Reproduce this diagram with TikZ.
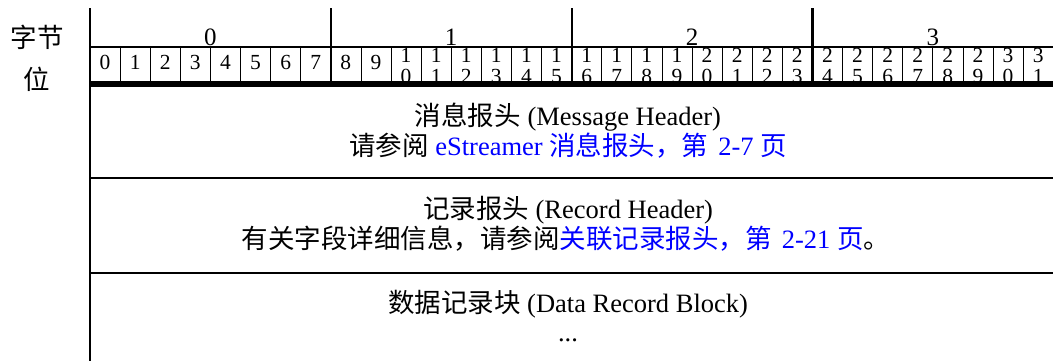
\documentclass[tikz,border=0pt]{standalone}
\usepackage{fontspec}
\setmainfont{Liberation Serif}
\newfontfamily\zhfont{Noto Sans CJK SC}
\newcommand{\zh}[1]{{\zhfont #1}}
\usetikzlibrary{calc}
\definecolor{linkblue}{RGB}{0,0,255}

\begin{document}
\begin{tikzpicture}[x=1pt,y=-1pt,
  bodytext/.style={font=\fontsize{26.5}{30}\selectfont, inner sep=0pt, anchor=base},
  bytenum/.style={font=\fontsize{25}{30}\selectfont, inner sep=0pt, anchor=base},
  bitnum/.style={font=\fontsize{21.5}{20}\selectfont, inner sep=0pt, anchor=base},
  thinrule/.style={line width=0.8pt},
  rule/.style={line width=2.2pt},
  heavyrule/.style={line width=5.5pt}]

\useasboundingbox (0,0) rectangle (1053,360);

\coordinate (top) at (90,8);
\coordinate (bottom) at (90,362);
\coordinate (byteline) at (90,46.7);
\coordinate (bitline) at (90,83.8);
\coordinate (rowA) at (90,178.3);
\coordinate (rowB) at (90,273.3);

% left labels
\node[bodytext] (bytelabel) at (37,47) {\zh{字节}};
\node[bodytext] (bitlabel) at (37,89) {\zh{位}};

% byte numbers
\foreach \b in {0,...,3}
  \node[bytenum] (byte\b) at ({90+240.8*\b+120.4},45) {\b};

% bit numbers
\foreach \i in {0,...,31}{
  \pgfmathsetmacro{\cx}{90+30.1*\i+15.05}
  \ifnum\i<10
    \node[bitnum] (bit\i) at (\cx,69.5) {\i};
  \else
    \pgfmathtruncatemacro{\tens}{\i/10}
    \pgfmathtruncatemacro{\ones}{\i-10*\tens}
    \node[bitnum] (bit\i hi) at (\cx,62) {\tens};
    \node[bitnum] (bit\i lo) at (\cx,83) {\ones};
  \fi
}

% rows
\node[bodytext] (msg1) at (568,125) {\zh{消息报头} (Message Header)};
\node[bodytext] (msg2) at (568,155) {\zh{请参阅} \textcolor{linkblue}{eStreamer \zh{消息报头，第}\hspace{10pt}2-7 \zh{页}}};
\node[bodytext] (rec1) at (568,218) {\zh{记录报头} (Record Header)};
\node[bodytext] (rec2) at (566,248) {\zh{有关字段详细信息，请参阅}\textcolor{linkblue}{\zh{关联记录报头，第}\hspace{10pt}2-21 \zh{页}}\zh{。}};
\node[bodytext] (data1) at (568,312) {\zh{数据记录块} (Data Record Block)};
\node[bodytext] (data2) at (568,341) {...};

% grid
\foreach \i in {1,...,31}
  \draw[thinrule] ($(byteline)+({30.1*\i},0)$) -- ($(bitline)+({30.1*\i},0)$);
\foreach \b in {1,2,3}
  \draw[rule] ($(top)+({240.8*\b},0)$) -- ($(bitline)+({240.8*\b},0)$);
\draw[line width=2.8pt] (top) -- (bottom);
\draw[rule] (byteline) -- +(966,0);
\draw[heavyrule] (bitline) -- +(966,0);
\draw[rule] (rowA) -- +(966,0);
\draw[rule] (rowB) -- +(966,0);

\end{tikzpicture}
\end{document}
